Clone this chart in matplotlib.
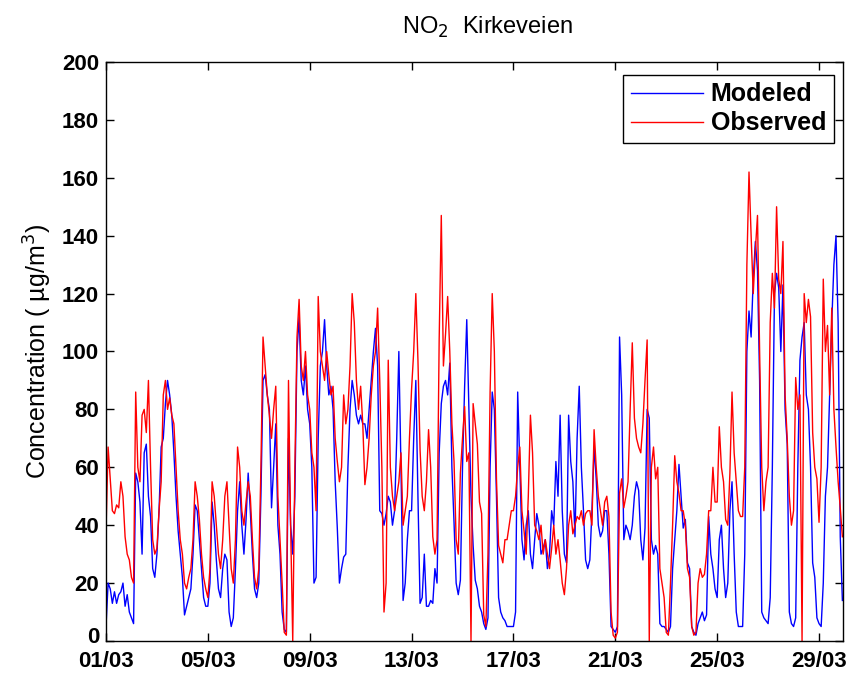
import numpy as np
import matplotlib
matplotlib.use("Agg")
import matplotlib.pyplot as plt
from matplotlib.transforms import ScaledTranslation

# 2-hourly values, one row per day, starting 01/03 00:00
modeled = [
    5, 20, 18, 13, 17, 13, 16, 17, 20, 12, 16, 10,
    8, 6, 58, 55, 48, 30, 65, 68, 50, 43, 25, 22,
    30, 45, 67, 70, 82, 90, 85, 78, 65, 50, 38, 30,
    22, 9, 12, 15, 18, 30, 47, 45, 35, 25, 15, 12,
    12, 20, 48, 40, 28, 18, 15, 25, 30, 28, 10, 5,
    8, 25, 45, 55, 40, 30, 42, 58, 45, 30, 18, 15,
    20, 50, 90, 92, 85, 80, 46, 60, 75, 40, 30, 10,
    4, 3, 70, 40, 30, 50, 100, 112, 90, 85, 95, 80,
    75, 60, 20, 22, 70, 95, 100, 111, 95, 85, 88, 80,
    55, 39, 20, 25, 29, 30, 60, 80, 90, 85, 78, 75,
    78, 75, 75, 70, 80, 90, 100, 108, 95, 45, 44, 40,
    44, 50, 48, 40, 45, 70, 100, 60, 14, 20, 35, 45,
    45, 70, 90, 50, 13, 15, 30, 12, 12, 14, 13, 25,
    20, 65, 82, 88, 90, 85, 96, 60, 41, 20, 16, 21,
    60, 88, 111, 80, 50, 33, 21, 18, 12, 10, 6, 4,
    8, 60, 86, 80, 50, 15, 10, 8, 7, 5, 5, 5,
    5, 10, 86, 60, 35, 28, 40, 45, 30, 25, 35, 44,
    40, 30, 32, 35, 25, 30, 45, 40, 62, 50, 78, 45,
    30, 27, 78, 62, 55, 36, 70, 88, 60, 45, 28, 25,
    28, 45, 67, 56, 40, 36, 38, 45, 45, 30, 5, 4,
    3, 5, 105, 85, 35, 40, 38, 35, 40, 50, 55, 52,
    35, 28, 39, 80, 77, 35, 30, 33, 30, 6, 5, 5,
    4, 3, 5, 25, 35, 45, 61, 50, 39, 42, 27, 25,
    5, 3, 2, 6, 8, 10, 7, 9, 43, 30, 25, 18,
    15, 35, 40, 25, 15, 20, 45, 55, 30, 10, 5, 5,
    5, 30, 100, 114, 105, 125, 138, 128, 90, 10, 8, 7,
    6, 15, 60, 120, 127, 122, 100, 123, 80, 68, 10, 6,
    5, 8, 60, 97, 105, 110, 85, 80, 60, 27, 22, 8,
    6, 5, 20, 50, 60, 85, 110, 130, 140, 110, 36, 14,
]

observed = [
    38, 67, 56, 45, 44, 47, 46, 55, 50, 36, 30, 28,
    22, 20, 86, 60, 55, 78, 80, 72, 90, 60, 35, 30,
    32, 45, 55, 85, 90, 80, 84, 78, 75, 60, 45, 35,
    30, 20, 18, 22, 25, 35, 55, 50, 42, 30, 22, 18,
    15, 25, 55, 50, 40, 30, 25, 35, 50, 55, 40, 25,
    20, 35, 67, 60, 45, 40, 48, 55, 50, 35, 22, 18,
    25, 60, 105, 95, 85, 78, 70, 80, 88, 50, 35, 20,
    3, 2, 90, 40, 0, 60, 105, 118, 95, 90, 100, 85,
    80, 65, 60, 45, 119, 100, 95, 90, 100, 92, 85, 88,
    70, 62, 55, 60, 85, 75, 80, 95, 120, 110, 90, 80,
    88, 75, 54, 60, 70, 85, 95, 100, 115, 90, 60, 10,
    20, 97, 60, 50, 45, 50, 55, 65, 40, 45, 50, 70,
    87, 100, 120, 97, 66, 50, 45, 55, 73, 60, 36, 30,
    35, 104, 147, 95, 106, 119, 100, 75, 62, 35, 30, 58,
    70, 81, 62, 65, 0, 82, 75, 68, 48, 44, 9, 5,
    30, 86, 120, 100, 56, 33, 30, 27, 35, 35, 40, 45,
    45, 50, 60, 67, 45, 38, 30, 50, 78, 65, 40, 38,
    35, 40, 30, 35, 30, 25, 32, 40, 30, 35, 28, 20,
    16, 25, 40, 45, 37, 40, 43, 42, 45, 40, 44, 45,
    45, 40, 73, 60, 50, 45, 40, 48, 50, 43, 10, 2,
    1, 3, 51, 56, 46, 50, 55, 80, 103, 77, 70, 67,
    65, 75, 90, 104, 0, 60, 67, 56, 60, 25, 20, 15,
    3, 2, 20, 40, 64, 55, 51, 45, 45, 40, 25, 22,
    5, 2, 3, 20, 25, 22, 23, 30, 45, 45, 60, 48,
    48, 74, 60, 55, 42, 40, 58, 86, 65, 55, 45, 43,
    43, 60, 130, 162, 140, 120, 135, 147, 100, 60, 45, 55,
    60, 110, 127, 115, 150, 125, 120, 138, 85, 70, 50, 40,
    45, 91, 80, 85, 0, 120, 110, 118, 112, 72, 60, 56,
    41, 60, 125, 100, 109, 85, 115, 80, 67, 55, 46, 36,
]

tick_days = [0, 4, 8, 12, 16, 20, 24, 28]
tick_labels = ["01/03", "05/03", "09/03", "13/03", "17/03", "21/03", "25/03", "29/03"]
y_ticks = list(range(0, 201, 20))

plt.rcParams["font.family"] = ["Liberation Sans", "DejaVu Sans"]

fig = plt.figure(figsize=(8.52, 6.77), dpi=100)
ax = fig.add_axes([0.1244, 0.0532, 0.865, 0.8552])

t = np.arange(len(modeled)) * 2.0 / 24.0
ax.plot(t, modeled, color=(0, 0, 1), lw=1.0, label="Modeled")
ax.plot(t, observed, color=(1, 0, 0), lw=1.0, label="Observed")

ax.set_xlim(0, 28.94)
ax.set_ylim(0, 200)
ax.set_xticks(tick_days)
ax.set_xticklabels(tick_labels)
ax.set_yticks(y_ticks)
ax.tick_params(direction="in", top=True, right=True, length=6, width=1,
               labelsize=16)
ax.tick_params(axis="x", pad=7)
ax.tick_params(axis="y", pad=5)
for lab in ax.get_xticklabels() + ax.get_yticklabels():
    lab.set_fontweight("bold")
for s in ax.spines.values():
    s.set_linewidth(1.0)

# lift the "0" y tick label a little so it clears the first date label
zero_lab = ax.yaxis.get_major_ticks()[0].label1
zero_lab.set_transform(zero_lab.get_transform()
                       + ScaledTranslation(0, 4 / 72, fig.dpi_scale_trans))

ax.set_title("NO$_2$  Kirkeveien", fontsize=17, pad=20, x=0.517)
ax.set_ylabel("Concentration ( \u00b5g/m$^3$)", fontsize=18, labelpad=6)

leg = ax.legend(loc="upper right", bbox_to_anchor=(0.9875, 0.978),
                prop={"size": 18, "weight": "bold"},
                handlelength=2.9, handletextpad=0.3, borderpad=0.3,
                labelspacing=0.2, borderaxespad=0.0, fancybox=False,
                framealpha=1, edgecolor="black")
leg.get_frame().set_linewidth(1.0)

fig.savefig("out.png", dpi=100)
